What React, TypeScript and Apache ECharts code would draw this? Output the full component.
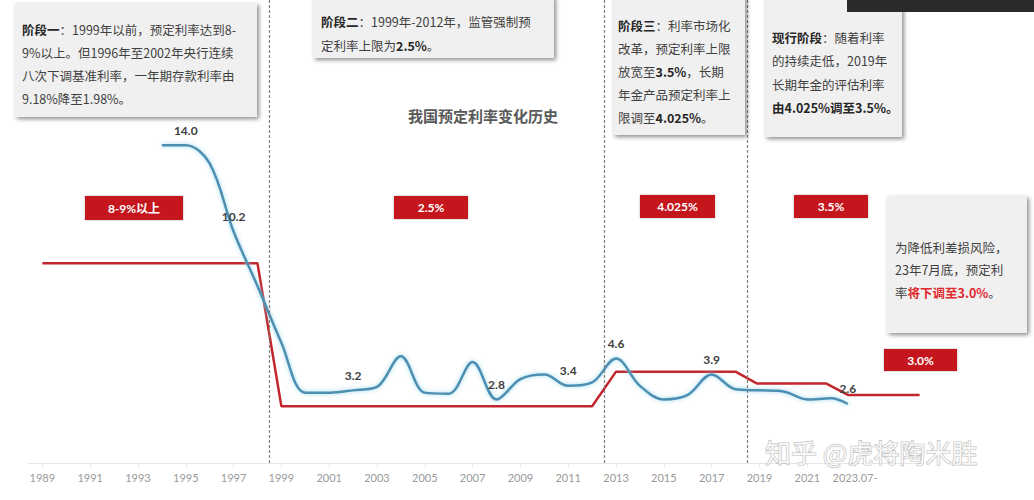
import React, { useEffect, useRef } from "react";
import * as echarts from "echarts";

// ---- data ----
const tickYears = [1989, 1991, 1993, 1995, 1997, 1999, 2001, 2003, 2005, 2007, 2009, 2011, 2013, 2015, 2017, 2019, 2021, 2023];
const tickLabels = ["1989", "1991", "1993", "1995", "1997", "1999", "2001", "2003", "2005", "2007", "2009", "2011", "2013", "2015", "2017", "2019", "2021", "2023.07-"];

// market rate (blue curve)
const blueYears = [1994, 1995, 1996, 1997, 1998, 1999, 2000, 2001, 2002, 2003, 2004, 2005, 2006, 2007, 2008, 2009, 2010, 2011, 2012, 2013, 2014, 2015, 2016, 2017, 2018, 2019, 2020, 2021, 2022, 2022.7];
const blueRates = [14.0, 14.0, 13.2, 10.2, 7.8, 5.3, 3.1, 3.1, 3.2, 3.35, 4.7, 3.1, 3.05, 4.45, 2.8, 3.7, 3.9, 3.4, 3.55, 4.6, 3.4, 2.8, 3.0, 3.9, 3.25, 3.2, 3.15, 2.8, 2.85, 2.6];
const blueLabelYears = [1995, 1997, 2002, 2008, 2011, 2013, 2017, 2022.7];

// pricing rate cap (red step line)
const redYears = [1989, 1998, 1999, 2012, 2013, 2018, 2018.9, 2021.8, 2022.7, 2025.7];
const redRates = [8.8, 8.8, 2.5, 2.5, 4.025, 4.025, 3.5, 3.5, 3.0, 3.0];

// stage boundaries
const stageBounds = [1998.5, 2012.5, 2018.5];

const CJK = "'Noto Sans CJK SC', sans-serif";
const NUM = "Lato, 'Noto Sans CJK SC', sans-serif";

function lines(texts: string[], x: number, y0: number, lh: number, size: number) {
  return texts.map((t, i) => ({
    type: "text",
    x,
    y: y0 + i * lh,
    style: {
      text: t,
      fontSize: size,
      fontFamily: CJK,
      fill: "#404040",
      verticalAlign: "middle",
      rich: {
        b: { fontSize: size, fontFamily: CJK, fontWeight: "bold", fill: "#262626" },
        r: { fontSize: size, fontFamily: CJK, fontWeight: "bold", fill: "#e0282e" },
      },
    },
    z: 20,
  }));
}

function note(x: number, y: number, w: number, h: number) {
  return {
    type: "rect",
    shape: { x, y, width: w, height: h },
    style: {
      fill: "#f0f0f0",
      shadowBlur: 4,
      shadowOffsetX: 2,
      shadowOffsetY: 2,
      shadowColor: "rgba(0,0,0,0.45)",
    },
    z: 10,
  };
}

function tag(x: number, y: number, w: number, h: number, t: string) {
  return [
    {
      type: "rect",
      shape: { x, y, width: w, height: h },
      style: { fill: "#c4161c", shadowBlur: 2, shadowColor: "rgba(0,0,0,0.3)" },
      z: 10,
    },
    {
      type: "text",
      x: x + w / 2,
      y: y + h / 2,
      style: {
        text: t,
        fontSize: 12,
        fontWeight: "bold",
        fontFamily: NUM,
        fill: "#ffffff",
        align: "center",
        verticalAlign: "middle",
      },
      z: 11,
    },
  ];
}

export default function App() {
  const ref = useRef<HTMLDivElement>(null);
  useEffect(() => {
    if (!ref.current) return;
    const chart = echarts.init(ref.current, null, { renderer: "svg" });
    const blueData = blueYears.map((y, i) => ({
      value: [y, blueRates[i]],
      label: { show: blueLabelYears.includes(y) },
    }));
    const redData = redYears.map((y, i) => [y, redRates[i]]);
    const graphic: any[] = [
      note(15, 3, 242, 114),
      ...lines(
        [
          "{b|阶段一}：1999年以前，预定利率达到8-",
          "9%以上。但1996年至2002年央行连续",
          "八次下调基准利率，一年期存款利率由",
          "9.18%降至1.98%。",
        ],
        22, 29, 23, 12.5
      ),
      note(313, -4, 241, 62),
      ...lines(["{b|阶段二}：1999年-2012年，监管强制预", "定利率上限为{b|2.5%}。"], 321, 21, 24, 12.5),
      note(613, -4, 132, 139),
      ...lines(
        ["{b|阶段三}：利率市场化", "改革，预定利率上限", "放宽至{b|3.5%}，长期", "年金产品预定利率上", "限调至{b|4.025%}。"],
        618, 25, 23, 12.5
      ),
      note(765, -4, 137, 141),
      ...lines(
        ["{b|现行阶段}：随着利率", "的持续走低，2019年", "长期年金的评估利率", "{b|由4.025%调至3.5%。}"],
        772, 37, 23.5, 12.5
      ),
      note(887, 196, 140, 137),
      ...lines(["为降低利差损风险，", "23年7月底，预定利", "率{r|将下调至3.0%}。"], 895, 247, 22.5, 12.5),
      {
        type: "text",
        x: 483,
        y: 115,
        style: {
          text: "我国预定利率变化历史",
          fontSize: 15,
          fontWeight: "bold",
          fontFamily: CJK,
          fill: "#595959",
          align: "center",
          verticalAlign: "middle",
        },
        z: 10,
      },
      ...tag(85, 196, 98, 24, "8-9%以上"),
      ...tag(394, 196, 74, 23, "2.5%"),
      ...tag(640, 195, 75, 23, "4.025%"),
      ...tag(794, 195, 74, 23, "3.5%"),
      ...tag(884, 349, 73, 22, "3.0%"),
      {
        type: "rect",
        shape: { x: 847, y: -2, width: 190, height: 14 },
        style: { fill: "#2a2a2a" },
        z: 30,
      },
      {
        type: "text",
        x: 765,
        y: 451,
        style: {
          text: "知乎 @虎将陶米胜",
          fontSize: 26,
          fontFamily: CJK,
          fill: "rgba(255,255,255,0.85)",
          stroke: "rgba(120,120,120,0.5)",
          lineWidth: 1.2,
          verticalAlign: "middle",
        },
        z: 40,
      },
    ];

    chart.setOption({
      animation: false,
      backgroundColor: "#ffffff",
      grid: { left: 28, right: 112, top: 0, bottom: 37 },
      xAxis: {
        type: "value",
        min: 1988.4,
        max: 2025.8,
        splitLine: { show: false },
        axisLine: { show: true, lineStyle: { color: "#e6e6e6", width: 1 } },
        axisTick: { show: true, customValues: tickYears, length: 4, lineStyle: { color: "#e6e6e6" } },
        axisLabel: {
          customValues: tickYears,
          formatter: (v: number) => tickLabels[tickYears.indexOf(v)] ?? "",
          color: "#9a9a9a",
          fontSize: 11,
          fontFamily: NUM,
          margin: 9,
        },
      },
      yAxis: {
        type: "value",
        min: 0,
        max: 20.4,
        show: false,
        splitLine: { show: false },
      },
      series: [
        {
          type: "line",
          data: redData,
          symbol: "none",
          lineStyle: { color: "#c1272d", width: 2.5 },
          z: 3,
        },
        {
          type: "line",
          data: blueData,
          symbol: "circle",
          symbolSize: 2,
          showSymbol: true,
          itemStyle: { color: "rgba(0,0,0,0)", borderWidth: 0 },
          smooth: 0.35,
          lineStyle: {
            color: "#4d8fb3",
            width: 2.5,
            shadowColor: "rgba(140,210,235,0.9)",
            shadowBlur: 4,
          },
          label: {
            show: false,
            position: "top",
            distance: 8,
            formatter: (p: any) => p.value[1].toFixed(1),
            color: "#404040",
            fontSize: 12,
            fontWeight: "bold",
            fontFamily: NUM,
          },
          labelLayout: { hideOverlap: false },
          markLine: {
            silent: true,
            symbol: "none",
            label: { show: false },
            lineStyle: { color: "#808080", type: [3, 2], width: 1.2 },
            data: stageBounds.map((b) => ({ xAxis: b })),
          },
          z: 4,
        },
      ],
      graphic,
    });
    return () => chart.dispose();
  }, []);
  return <div ref={ref} style={{ position: "fixed", left: 0, top: 0, width: 1034, height: 500 }} />;
}
